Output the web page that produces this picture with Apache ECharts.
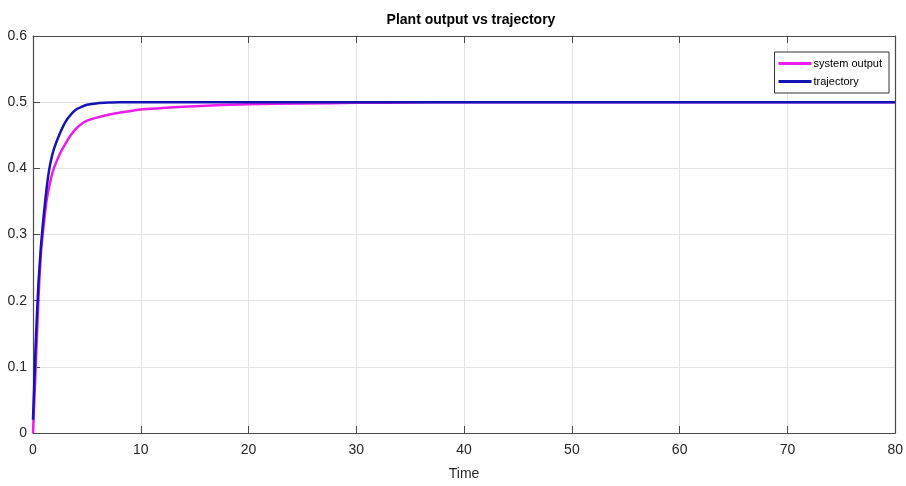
<!DOCTYPE html>
<html><head><meta charset="utf-8">
<script src="https://cdn.jsdelivr.net/npm/echarts@6/dist/echarts.min.js"></script>
<style>html,body{margin:0;padding:0;background:#fff}#c{width:906px;height:486px}</style>
</head><body><div id="c"></div>
<script>
const title = 'Plant output vs trajectory';
const xLabel = 'Time';
const seriesNames = ['system output', 'trajectory'];
const time       = [0, 0.25, 0.5, 0.75, 1, 1.25, 1.5, 1.75, 2, 2.5, 3, 3.5, 4, 4.5, 5, 6, 7, 8, 10, 12, 15, 20, 25, 30, 35, 40, 50, 60, 70, 80];
const sysOutput  = [0, 0.1, 0.2, 0.275, 0.315, 0.35, 0.372, 0.39, 0.403, 0.422, 0.437, 0.45, 0.46, 0.467, 0.472, 0.477, 0.481, 0.484, 0.489, 0.491, 0.494, 0.497, 0.498, 0.499, 0.4995, 0.5, 0.5, 0.5, 0.5, 0.5];
const trajectory = [0.02, 0.135, 0.225, 0.285, 0.33, 0.368, 0.398, 0.418, 0.432, 0.453, 0.47, 0.481, 0.489, 0.493, 0.496, 0.4985, 0.4995, 0.5, 0.5, 0.5, 0.5, 0.5, 0.5, 0.5, 0.5, 0.5, 0.5, 0.5, 0.5, 0.5];

const FONT = "'Liberation Sans Narrow', 'Arial Narrow', 'Liberation Sans', Arial, sans-serif";
const pair = (ys) => time.map((t, i) => [t, ys[i]]);
const chart = echarts.init(document.getElementById('c'));
const axisLine = {show: true, onZero: false, lineStyle: {color: '#4a4a4a', width: 1.2}};
const tick = {show: true, inside: true, length: 7, lineStyle: {color: '#4a4a4a'}};
chart.setOption({
  animation: false,
  backgroundColor: '#fff',
  title: {text: title, left: 466, textAlign: 'center', top: 8, textStyle: {fontFamily: FONT, fontSize: 14, fontWeight: 'bold', color: '#000'}},
  grid: {left: 33, right: 7, top: 36, bottom: 53, containLabel: false},
  legend: {
    orient: 'vertical', right: 17, top: 52, icon: 'rect', itemWidth: 33, itemHeight: 3, itemGap: 7,
    backgroundColor: '#fff', borderColor: '#333', borderWidth: 1, borderRadius: 0, padding: [6, 7, 6, 4],
    textStyle: {fontFamily: FONT, fontSize: 11, color: '#000', padding: [0, 0, 0, -3]},
    data: seriesNames
  },
  xAxis: [
    {type: 'value', min: 0, max: 80, interval: 10, name: xLabel, nameLocation: 'middle', nameGap: 34,
     nameTextStyle: {fontFamily: FONT, fontSize: 14, color: '#262626'},
     axisLine: axisLine, axisTick: tick,
     axisLabel: {fontFamily: FONT, fontSize: 14, color: '#262626', margin: 10},
     splitLine: {show: true, lineStyle: {color: '#e3e3e3', width: 1}}},
    {type: 'value', position: 'top', min: 0, max: 80, interval: 10,
     axisLine: axisLine, axisTick: tick, axisLabel: {show: false}, splitLine: {show: false}}
  ],
  yAxis: [
    {type: 'value', min: 0, max: 0.6, interval: 0.1,
     axisLine: axisLine, axisTick: tick,
     axisLabel: {fontFamily: FONT, fontSize: 14, color: '#262626', margin: 6, formatter: v => String(+v.toFixed(1))},
     splitLine: {show: true, lineStyle: {color: '#e3e3e3', width: 1}}},
    {type: 'value', position: 'right', min: 0, max: 0.6, interval: 0.1,
     axisLine: axisLine, axisTick: {show: false}, axisLabel: {show: false}, splitLine: {show: false}}
  ],
  series: [
    {name: seriesNames[0], type: 'line', data: pair(sysOutput), showSymbol: false, symbol: 'none',
     smooth: 0.2, itemStyle: {color: '#ec1cec'}, lineStyle: {color: '#ec1cec', width: 2.5}},
    {name: seriesNames[1], type: 'line', data: pair(trajectory), showSymbol: false, symbol: 'none',
     smooth: 0.2, itemStyle: {color: '#1414b4'}, lineStyle: {color: '#1414b4', width: 2.5}}
  ]
});
</script></body></html>
